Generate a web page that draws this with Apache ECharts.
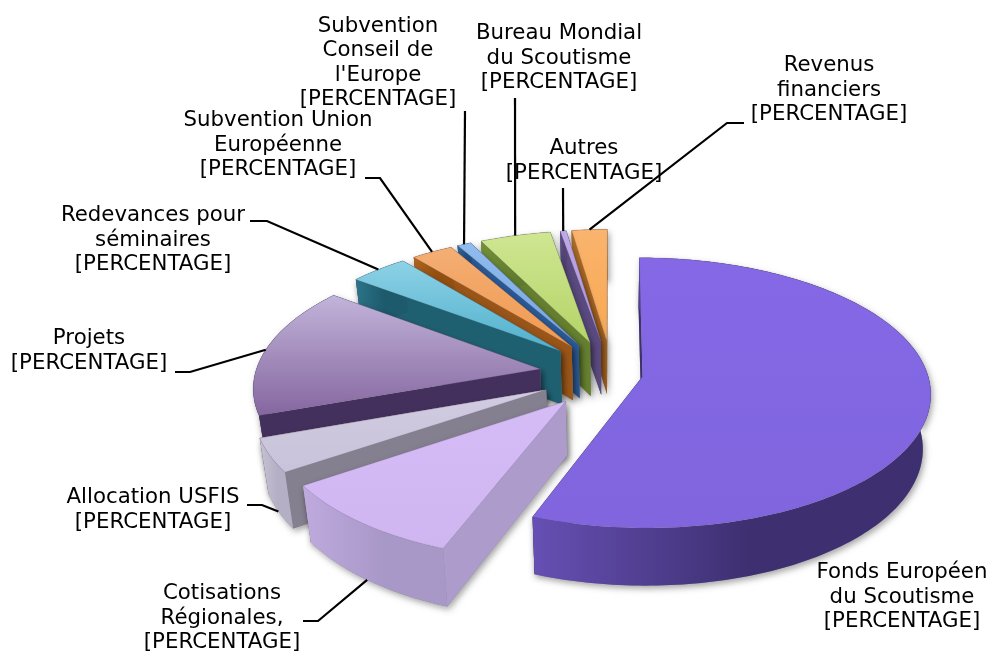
<!DOCTYPE html>
<html>
<head>
<meta charset="utf-8">
<style>
  html, body { margin: 0; padding: 0; background: #fff; }
  #chart { width: 991px; height: 654px; }
</style>
<script src="https://cdn.jsdelivr.net/npm/echarts@6/dist/echarts.min.js"></script>
</head>
<body>
<div id="chart"></div>
<script>
// slices, clockwise from 12 o'clock
const categories = [
  "Fonds Européen\ndu Scoutisme",
  "Cotisations\nRégionales,",
  "Allocation USFIS",
  "Projets",
  "Redevances pour\nséminaires",
  "Subvention Union\nEuropéenne",
  "Subvention\nConseil de\nl'Europe",
  "Bureau Mondial\ndu Scoutisme",
  "Autres",
  "Revenus\nfinanciers",
];
const values = [55.7, 9.7, 4.0, 15.8, 3.8, 2.7, 0.9, 4.6, 0.4, 2.3];
const percentLabel = "[PERCENTAGE]";

// how far each slice is pulled out of the pie
const explode = [31, 73, 73, 73, 73, 73, 73, 73, 73, 73];

const topColors = [
  ["#8468e6", "#8065de"], ["#d6bcf6", "#d0b6f0"], ["#d2cce2", "#c8c2da"], ["#c2b4da", "#85669f"],
  ["#8ed2e6", "#4fb0cc"], ["#f4ae74", "#f09a50"], ["#90bcee", "#76a4e0"], ["#cfe692", "#b4d468"],
  ["#bfa9e6", "#a893d6"], ["#fab46e", "#f8a850"],
];
const wallColors = [
  ["#6650b4", "#3d2f70"], ["#bfaade", "#a898c8"], ["#c6c1d4", "#b4afc4"], ["#43305c", "#43305c"],
  ["#2c7488", "#1c5a6c"], ["#b0641e", "#94500f"], ["#34689e", "#244f84"], ["#74903a", "#5f7a2c"],
  ["#60508a", "#544478"], ["#b8742a", "#a4621c"],
];
const radialColors = [
  "#3d2f70", "#ad9ccb", "#85808f", "#43305c", "#1f6070",
  "#9a5518", "#2a5a96", "#66802f", "#5a4a80", "#a9651f",
];

// back to front
const drawOrder = [9, 8, 7, 6, 5, 4, 3, 2, 1, 0];

// label centre and leader line elbows, in page pixels
const labelCenters = [
  [902, 597], [222, 618], [153, 510], [89, 351], [153, 240],
  [278, 145], [378, 63], [559, 58], [584, 161], [829, 90],
];
const leaderElbows = [
  null,
  [[303, 621], [318, 621]],
  [[247, 505], [262, 505]],
  [[175, 372], [190, 372]],
  [[250, 221], [267, 221]],
  [[365, 178], [380, 178]],
  [[465, 111]],
  [[515, 98]],
  [[563, 188]],
  [[744, 123], [727, 123]],
];

const CX = 612, CY = 374, RADIUS = 285, TILT = 0.465, PERSP = 0.12, DEPTH = 54;

const total = values.reduce((a, b) => a + b, 0);
const startAngles = [];
values.reduce((acc, v, i) => {
  startAngles[i] = acc;
  return acc + (v / total) * 2 * Math.PI;
}, 0);

function project(i, r, angle, low) {
  const mid = startAngles[i] + (values[i] / total) * Math.PI;
  const u = explode[i] * Math.sin(mid) + r * Math.sin(angle);
  const v = -explode[i] * Math.cos(mid) - r * Math.cos(angle);
  const s = 1 / (1 - PERSP * v / RADIUS);
  const shrink = low ? 0.975 : 1;
  return [CX + u * s * shrink, CY + TILT * v * s * shrink + (low ? DEPTH * s : 0)];
}

function arcPoints(i, low, reverse) {
  const a0 = startAngles[i];
  const a1 = a0 + (values[i] / total) * 2 * Math.PI;
  const n = Math.max(2, Math.ceil((a1 - a0) / 0.02));
  const pts = [];
  for (let k = 0; k <= n; k++) {
    pts.push(project(i, RADIUS, a0 + ((a1 - a0) * k) / n, low));
  }
  return reverse ? pts.reverse() : pts;
}

const vGrad = (c) => new echarts.graphic.LinearGradient(0, 0, 0, 1, [
  { offset: 0, color: c[0] }, { offset: 1, color: c[1] },
]);
const hGrad = (c) => new echarts.graphic.LinearGradient(0, 0, 1, 0, [
  { offset: 0, color: c[0] }, { offset: 0.55, color: c[1] }, { offset: 1, color: c[1] },
]);

const shadow = { fill: "#888", shadowBlur: 6, shadowColor: "rgba(0,0,0,0.35)", shadowOffsetX: 2, shadowOffsetY: 3 };

const renderSlice = (params, api) => {
  const i = api.value(0);
  const a0 = startAngles[i];
  const a1 = a0 + (values[i] / total) * 2 * Math.PI;
  const apexTop = project(i, 0, 0, false);
  const apexLow = project(i, 0, 0, true);
  const radial = (a) => [apexTop, project(i, RADIUS, a, false), project(i, RADIUS, a, true), apexLow];
  const poly = (points, style) => ({ type: "polygon", shape: { points }, style });
  const rimWall = arcPoints(i, false).concat(arcPoints(i, true, true));
  return {
    type: "group",
    children: [
      // shadow pass first so it never falls on the slice's own faces
      poly(radial(a0), shadow),
      poly(radial(a1), shadow),
      poly(rimWall, shadow),
      poly(radial(a0), { fill: radialColors[i] }),
      poly(radial(a1), { fill: radialColors[i] }),
      poly(rimWall, { fill: hGrad(wallColors[i]) }),
      poly([apexTop].concat(arcPoints(i, false)), {
        fill: vGrad(topColors[i]),
        stroke: "rgba(90,80,110,0.35)",
        lineWidth: 0.6,
      }),
    ],
  };
};

const renderLabel = (params, api) => {
  const i = api.value(0);
  const children = [];
  if (leaderElbows[i]) {
    const mid = startAngles[i] + (values[i] / total) * Math.PI;
    const front = Math.cos(mid) < -0.3;
    const end = project(i, RADIUS, mid, front);
    children.push({
      type: "polyline",
      shape: { points: leaderElbows[i].concat([end]) },
      style: { stroke: "#000", lineWidth: 2.2, fill: "none" },
    });
  }
  children.push({
    type: "text",
    x: labelCenters[i][0],
    y: labelCenters[i][1],
    style: {
      text: categories[i] + "\n" + percentLabel,
      fill: "#000",
      fontFamily: "DejaVu Sans",
      fontSize: 21.3,
      lineHeight: 24.6,
      align: "center",
      verticalAlign: "middle",
    },
  });
  return { type: "group", children };
};

const chart = echarts.init(document.getElementById("chart"));
chart.setOption({
  animation: false,
  backgroundColor: "#fff",
  series: [
    {
      type: "custom",
      coordinateSystem: "none",
      silent: true,
      renderItem: renderSlice,
      data: drawOrder.map((i) => [i]),
    },
    {
      type: "custom",
      coordinateSystem: "none",
      silent: true,
      z: 5,
      renderItem: renderLabel,
      data: categories.map((c, i) => [i]),
    },
  ],
});
</script>
</body>
</html>
